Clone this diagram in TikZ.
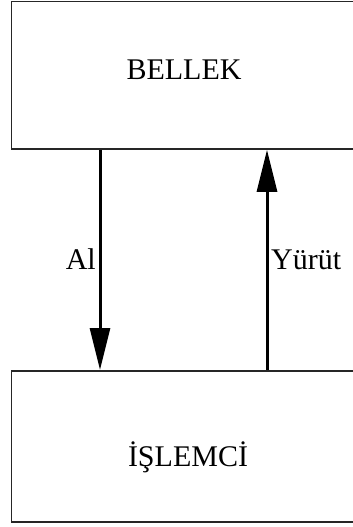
\documentclass[tikz,border=0pt]{standalone}
\usepackage{fontspec}
\setmainfont{Liberation Serif}
\usetikzlibrary{arrows.meta}
\begin{document}
\begin{tikzpicture}[x=1pt,y=-1pt,
  unitbox/.style={draw=black!85,line width=1.6pt,rectangle,inner sep=0pt},
  boxtext/.style={font=\fontsize{30}{36}\selectfont,inner sep=0pt},
  flow/.style={line width=3pt,-{Triangle[width=20pt,length=42pt]}},
  flowlabel/.style={font=\fontsize{30}{36}\selectfont,inner sep=0pt}]
  \useasboundingbox (0,0) rectangle (353,527);
  \clip (0,0) rectangle (353,527);
  % the two units
  \node[unitbox,minimum width=351.5pt,minimum height=147.5pt,anchor=north west] (mem) at (10.5,0.8) {};
  \node[unitbox,minimum width=351.5pt,minimum height=151pt,anchor=north west] (cpu) at (10.5,370) {};
  \node[boxtext,anchor=base] (memtext) at (184,79) {BELLEK};
  \node[boxtext,anchor=base] (cputext) at (188,466) {İŞLEMCİ};
  % fetch and execute paths
  \coordinate (xl) at (100,0);
  \coordinate (xr) at (267,0);
  \draw[flow] (mem.south -| xl) -- (cpu.north -| xl);
  \draw[flow] (cpu.north -| xr) -- (mem.south -| xr);
  \node[flowlabel,anchor=base east] (al) at (96,269) {Al};
  \node[flowlabel,anchor=base west] (yurut) at (271,269) {Yürüt};
\end{tikzpicture}
\end{document}
